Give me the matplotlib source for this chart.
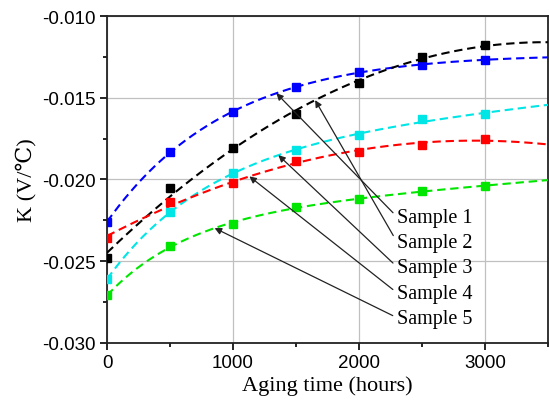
import numpy as np
import matplotlib
matplotlib.use("Agg")
import matplotlib.pyplot as plt
from matplotlib.ticker import MultipleLocator, FormatStrFormatter

# Aging data: temperature coefficient K (V/℃) versus aging time
hours = [0, 500, 1000, 1500, 2000, 2500, 3000]
sample1 = [-0.0226, -0.0183, -0.0159, -0.01434, -0.0134, -0.0130, -0.01267]
sample2 = [-0.0248, -0.0205, -0.0181, -0.0160, -0.0141, -0.0125, -0.0118]
sample3 = [-0.0261, -0.0220, -0.0196, -0.0182, -0.0173, -0.0163, -0.0160]
sample4 = [-0.0236, -0.0214, -0.0202, -0.0189, -0.0183, -0.0179, -0.0175]
sample5 = [-0.0271, -0.0241, -0.0227, -0.0217, -0.0212, -0.0207, -0.0204]

series_names = ["Sample 1", "Sample 2", "Sample 3", "Sample 4", "Sample 5"]
series_colors = ["#0000ff", "#000000", "#00e5e5", "#ff0000", "#00e600"]
series_values = [sample1, sample2, sample3, sample4, sample5]
fit_models = ["exp", "poly2", "exp", "poly2", "exp"]

# annotation anchor: time at which each arrow meets its fitted curve
arrow_hours = [1344, 1652, 1360, 1130, 854]
label_hour = 2300
label_k = [-0.02233, -0.02386, -0.02539, -0.02698, -0.02851]

serif = ["Liberation Serif", "DejaVu Serif"]


def fit_trend(x, y, model):
    """Least-squares trend: quadratic, or y = a + b*exp(-x/t) + c*x."""
    x = np.asarray(x, float)
    y = np.asarray(y, float)
    if model == "poly2":
        coef = np.polyfit(x, y, 2)
        return lambda xx: np.polyval(coef, xx)
    best = None
    for t in np.linspace(150, 6000, 600):
        A = np.column_stack([np.ones_like(x), np.exp(-x / t), x])
        p, *_ = np.linalg.lstsq(A, y, rcond=None)
        err = np.sum((A @ p - y) ** 2)
        if best is None or err < best[0]:
            best = (err, t, p)
    _, t, p = best
    return lambda xx: p[0] + p[1] * np.exp(-np.asarray(xx) / t) + p[2] * np.asarray(xx)


fig = plt.figure(figsize=(5.49, 4.06), dpi=100)
ax = fig.add_axes([0.195, 0.153, 0.803, 0.805])

xs = np.linspace(0, 3500, 300)
fits = []
for vals, color, model in zip(series_values, series_colors, fit_models):
    f = fit_trend(hours, vals, model)
    fits.append(f)
    ax.plot(xs, f(xs), color=color, lw=1.5, dashes=(4, 2.3), zorder=3)
    ax.plot(hours, vals, ls="none", marker="s", ms=6, color=color,
            zorder=4)

for name, f, xa, ly in zip(series_names, fits, arrow_hours, label_k):
    ax.annotate(name, xy=(xa, f(xa)),
                xytext=(label_hour, ly), ha="left", va="center",
                fontsize=14.5, family=serif,
                arrowprops=dict(arrowstyle="-|>", color="#222222", lw=0.9,
                                mutation_scale=10, shrinkA=1, shrinkB=0,
                                relpos=(0, 0.55)),
                zorder=5)

ax.set_xlim(0, 3500)
ax.set_ylim(-0.030, -0.010)
ax.xaxis.set_major_locator(MultipleLocator(1000))
ax.xaxis.set_minor_locator(MultipleLocator(500))
ax.yaxis.set_major_locator(MultipleLocator(0.005))
ax.yaxis.set_minor_locator(MultipleLocator(0.0025))
ax.yaxis.set_major_formatter(FormatStrFormatter("%.3f"))
ax.grid(True, which="major", color="#c0c0c0", lw=0.9, zorder=0)
ax.set_axisbelow(True)

ax.tick_params(which="both", direction="out", top=False, right=False,
               width=1.2, labelsize=13.5, pad=3)
ax.tick_params(which="major", length=5)
ax.tick_params(which="minor", length=3)
for lab in ax.get_xticklabels() + ax.get_yticklabels():
    lab.set_family("Liberation Sans")
for sp in ax.spines.values():
    sp.set_linewidth(1.3)
    sp.set_color("#222222")

ax.set_xlabel("Aging time (hours)", fontsize=16, family=serif, labelpad=3)
ax.set_ylabel("K (V/℃)", fontsize=16, family=serif, labelpad=4)

fig.savefig("out.png", dpi=100)
